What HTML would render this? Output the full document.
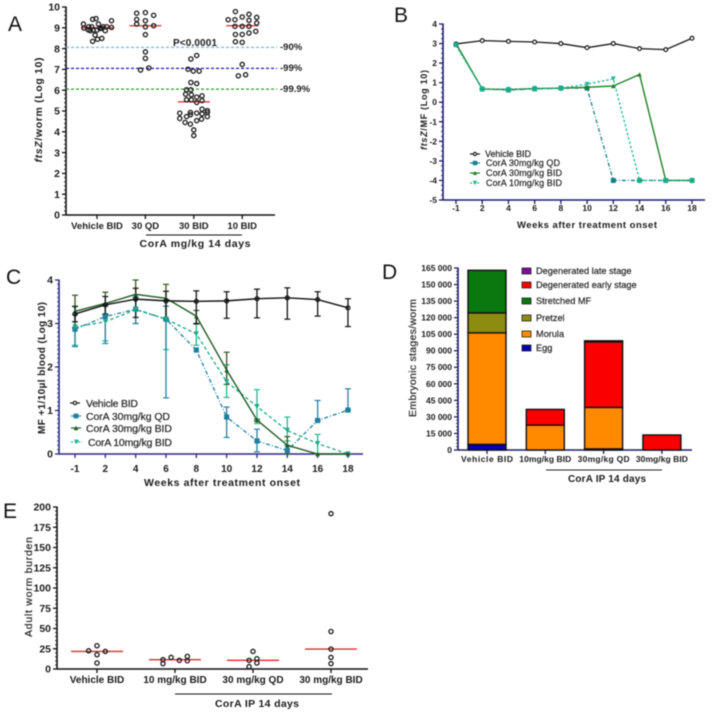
<!DOCTYPE html>
<html>
<head>
<meta charset="utf-8">
<style>
html,body{margin:0;padding:0;background:#fff;width:713px;height:712px;overflow:hidden}
svg{display:block;filter:blur(0.4px)}
text{font-family:"Liberation Sans",sans-serif;fill:#1c1c1c}
.b{font-weight:bold}
.m{stroke:#333;stroke-width:.2}
.pl{font-size:21px;fill:#111}
</style>
</head>
<body>
<svg id="fig" width="713" height="712" viewBox="0 0 713 712" xmlns="http://www.w3.org/2000/svg">
  <rect x="0" y="0" width="713" height="712" fill="#fff"/>

  <g id="panelA">
    <text class="pl" x="8" y="31">A</text>
    <text class="b" transform="translate(42,110) rotate(-90)" text-anchor="middle" font-size="10.5" textLength="105"><tspan font-style="italic">ftsZ</tspan>/worm (Log 10)</text>
    <text class="b" x="173" y="46" font-size="10" textLength="44">P&lt;0.0001</text>
    <text x="280" y="50" font-size="9.5" class="b">-90%</text>
    <text x="280" y="71" font-size="9.5" class="b">-99%</text>
    <text x="280" y="92" font-size="9.5" class="b">-99.9%</text>
    <line x1="146" x2="242" y1="235" y2="235" stroke="#111" stroke-width="1"/>
    <text class="b" x="195" y="247" font-size="10.5" text-anchor="middle" textLength="111">CorA mg/kg 14 days</text>
  </g>

  <g id="panelB">
    <text class="pl" x="394" y="22">B</text>
    <text class="b" transform="translate(427,110) rotate(-90)" text-anchor="middle" font-size="9" textLength="80"><tspan font-style="italic">ftsZ</tspan>/MF (Log 10)</text>
    <text class="b" x="587" y="228" font-size="9.5" text-anchor="middle" textLength="140">Weeks after treatment onset</text>
    <text class="m" x="485" y="157" font-size="9" textLength="46">Vehicle BID</text>
    <text class="m" x="486" y="166" font-size="9" textLength="74">CorA 30mg/kg QD</text>
    <text class="m" x="486" y="176" font-size="9" textLength="76">CorA 30mg/kg BID</text>
    <text class="m" x="486" y="186" font-size="9" textLength="76">CorA 10mg/kg BID</text>
  </g>

  <g id="panelC">
    <text class="pl" x="6" y="284">C</text>
    <text class="b" transform="translate(45,368) rotate(-90)" text-anchor="middle" font-size="10" textLength="132">MF +1/10µl blood (Log 10)</text>
    <text class="b" x="222" y="486" font-size="10.5" text-anchor="middle" textLength="156">Weeks after treatment onset</text>
    <text class="m" x="86" y="407" font-size="10.5" textLength="52">Vehicle BID</text>
    <text class="m" x="86" y="420" font-size="10.5" textLength="84">CorA 30mg/kg QD</text>
    <text class="m" x="86" y="432" font-size="10.5" textLength="86">CorA 30mg/kg BID</text>
    <text class="m" x="88" y="446" font-size="10.5" textLength="84">CorA 10mg/kg BID</text>
  </g>

  <g id="panelD">
    <text class="pl" x="382" y="279">D</text>
    <text class="m" transform="translate(416,358) rotate(-90)" text-anchor="middle" font-size="10.5" textLength="118">Embryonic stages/worm</text>
    <line x1="546" x2="662" y1="470" y2="470" stroke="#222" stroke-width="1"/>
    <text class="b" x="607" y="482" font-size="10" text-anchor="middle" textLength="78">CorA IP 14 days</text>
  </g>

  <g id="panelE">
    <text class="pl" x="3" y="518">E</text>
    <text class="m" transform="translate(32,587) rotate(-90)" text-anchor="middle" font-size="10.5" textLength="100">Adult worm burden</text>
    <line x1="175" x2="332" y1="694" y2="694" stroke="#111" stroke-width="1"/>
    <text class="b" x="257" y="707" font-size="10.5" text-anchor="middle" textLength="84">CorA IP 14 days</text>
  </g>
</svg>

<script>
/* ---------- Panel A data ---------- */
var aCategories = ['Vehicle BID', '30 QD', '30 BID', '10 BID'];
var aYTicks = [0, 1, 2, 3, 4, 5, 6, 7, 8, 9, 10];
var aMedians = [9.0, 9.1, 5.44, 9.1];
var aThresholds = [8.06, 7.05, 6.05];
var aVehicleValues = [9.18, 8.99, 9.05, 8.9, 9.41, 9.44, 9.18, 8.89, 8.89, 8.97, 8.86, 9.05, 9.34, 9.02, 8.97, 8.65, 8.35, 8.45, 8.49, 8.86, 9.05, 9.05];
var aVehicleJitter = [-.28, -.27, -.17, -.18, -.09, -.02, .03, -.08, 0, .1, .17, .2, .3, .3, .06, -.04, -.09, .01, .1, -.14, .13, -.11];
var aQdValues = [9.7, 9.73, 9.6, 9.4, 9.34, 9.18, 9.05, 9.1, 8.67, 7.84, 7.53, 6.97, 7.07];
var aQdJitter = [-.18, 0, .17, -.18, 0, -.18, 0, .17, 0, 0, 0, -.1, .07];
var aBid30Values = [7.5, 7.67, 7.01, 6.92, 6.92, 6.37, 6.32, 6.02, 6.02, 5.81, 5.78, 5.67, 5.73, 5.54, 5.54, 5.41, 5.5, 5.09, 4.93, 4.9, 4.86, 5.02, 4.9, 4.73, 4.64, 4.82, 4.73, 4.61, 4.54, 4.45, 4.37, 4.09, 3.82, 4.93];
var aBid30Jitter = [-.06, .06, -.12, -.01, .11, -.06, .06, -.15, -.06, -.17, -.05, .06, .17, -.15, -.05, .06, .17, .17, -.07, .06, .17, .28, -.29, -.15, -.29, -.07, .28, .16, .06, -.18, -.07, 0, 0, .28];
var aBid10Values = [9.78, 9.39, 9.39, 9.52, 9.65, 9.5, 9.36, 9.23, 9.07, 9.07, 9.07, 8.68, 8.68, 8.75, 8.83, 8.33, 8.3, 7.24, 6.69, 6.74];
var aBid10Jitter = [-.14, -.29, -.15, 0, .14, .3, .14, .3, -.15, 0, .14, -.14, 0, .14, .28, -.14, 0, 0, -.08, .07];

/* ---------- Panel B data ---------- */
var weekLabels = ['-1', '2', '4', '6', '8', '10', '12', '14', '16', '18'];
var bYTicks = [-5, -4, -3, -2, -1, 0, 1, 2, 3, 4];
var bVehicle = [2.98, 3.15, 3.11, 3.08, 3.0, 2.79, 3.0, 2.74, 2.69, 3.27];
var bQd30 = [2.95, 0.68, 0.62, 0.68, 0.72, 0.72, -4, -4, -4, -4];
var bBid30 = [3.0, 0.68, 0.65, 0.7, 0.72, 0.76, 0.83, 1.42, -4, -4];
var bBid10 = [2.9, 0.68, 0.65, 0.7, 0.72, 0.92, 1.2, -4, -4, -4];

/* ---------- Panel C data ---------- */
var cYTicks = [0, 1, 2, 3, 4];
var cVehicle = [3.22, 3.43, 3.56, 3.52, 3.51, 3.52, 3.57, 3.59, 3.55, 3.36];
var cVehicleUpper = [3.39, 3.62, 3.81, 3.74, 3.75, 3.73, 3.79, 3.82, 3.73, 3.57];
var cVehicleLower = [3.04, 3.22, 3.14, 3.1, 2.99, 3.12, 3.13, 3.1, 3.17, 2.93];
var cQd30 = [2.87, 3.16, 3.33, 3.1, 2.39, 0.85, 0.3, 0.08, 0.77, 1.01];
var cQd30Upper = [3.2, 3.4, 3.6, 3.4, 2.39, 1.08, 0.57, 0.2, 1.23, 1.5];
var cQd30Lower = [2.47, 2.54, 3.0, 1.29, 2.39, 0.38, 0.05, 0, 0.77, 1.01];
var cBid30 = [3.28, 3.46, 3.67, 3.58, 3.17, 1.93, 0.78, 0.2, 0, 0];
var cBid30Upper = [3.65, 3.72, 4.0, 3.9, 3.3, 2.34, 0.8, 0.4, 0, 0];
var cBid30Lower = [2.9, 3.2, 3.3, 3.1, 3.0, 1.6, 0.76, 0, 0, 0];
var cBid10 = [2.92, 3.04, 3.32, 3.1, 2.76, 1.66, 1.09, 0.54, 0.24, 0];
var cBid10Upper = [3.4, 3.4, 3.6, 3.4, 3.0, 2.05, 1.48, 0.85, 0.45, 0];
var cBid10Lower = [2.5, 2.6, 3.0, 2.4, 2.5, 1.3, 0.7, 0.3, 0, 0];

/* ---------- Panel D data ---------- */
var dCategories = ['Vehicle BID', '10mg/kg BID', '30mg/kg QD', '30mg/kg BID'];
var dYTicks = [0, 15000, 30000, 45000, 60000, 75000, 90000, 105000, 120000, 135000, 150000, 165000];
var dStageNames = ['Egg', 'Morula', 'Pretzel', 'Stretched MF', 'Degenerated early stage', 'Degenerated late stage'];
var dEgg = [5100, 0, 1000, 0];
var dMorula = [101100, 22600, 37600, 0];
var dPretzel = [18100, 0, 0, 0];
var dStretched = [38600, 0, 0, 0];
var dEarly = [0, 14200, 59400, 13600];
var dLate = [0, 0, 1000, 0];

/* ---------- Panel E data ---------- */
var eCategories = ['Vehicle BID', '10 mg/kg BID', '30 mg/kg QD', '30 mg/kg BID'];
var eYTicks = [0, 25, 50, 75, 100, 125, 150, 175, 200];
var eMedians = [21.7, 11.5, 10.7, 24.6];
var eVehicleValues = [22.5, 28.7, 17.6, 21.7, 7.4];
var eVehicleJitter = [-.107, 0, 0, .107, 0];
var eBid10Values = [11.5, 6.6, 14.3, 10.7, 15.6, 10.2];
var eBid10Jitter = [-.154, -.154, -.05, .056, .158, .158];
var eQd30Values = [21.7, 10.7, 12.7, 7.4, 2.9];
var eQd30Jitter = [0, -.05, .05, .05, -.05];
var eBid30Values = [191.8, 46.3, 24.6, 14.3, 6.6];
var eBid30Jitter = [0, 0, 0, 0, 0];

/* ---------- helpers ---------- */
var NS = 'http://www.w3.org/2000/svg';
function mk(parent, tag, attrs) {
  var el = document.createElementNS(NS, tag);
  for (var k in attrs) el.setAttribute(k, attrs[k]);
  parent.appendChild(el);
  return el;
}
function linear(d0, d1, r0, r1) {
  return function (v) { return r0 + (v - d0) * (r1 - r0) / (d1 - d0); };
}
function band(r0, step) {
  return function (i) { return r0 + i * step; };
}
function drawYAxis(parent, name, y, ticks, minorStep, x, color, size, bold, fmt, labelGap) {
  var g = mk(parent, 'g', {});
  
  
  var lo = ticks[0], hi = ticks[ticks.length - 1];
  mk(g, 'line', {x1: x, x2: x, y1: y(hi) - .5, y2: y(lo) + .5, stroke: color, 'stroke-width': 1.6});
  if (minorStep) {
    var n = Math.round((hi - lo) / minorStep);
    for (var j = 0; j <= n; j++) {
      var yy = y(lo + j * minorStep);
      mk(g, 'line', {x1: x - 2, x2: x, y1: yy, y2: yy, stroke: color, 'stroke-width': .8});
    }
  }
  ticks.forEach(function (t) {
    mk(g, 'line', {x1: x - 4, x2: x, y1: y(t), y2: y(t), stroke: color, 'stroke-width': 1.3});
    var lab = mk(g, 'text', {x: x - labelGap, y: y(t) + size * .35, 'text-anchor': 'end', 'font-size': size, 'font-weight': bold ? 'bold' : 'normal'});
    lab.textContent = fmt ? fmt(t) : String(t);
    
    
  });
}
function drawXAxis(parent, name, x, labels, y0, xStart, xEnd, color, size, labelY, widths) {
  var g = mk(parent, 'g', {});
  
  
  mk(g, 'line', {x1: xStart, x2: xEnd, y1: y0, y2: y0, stroke: color, 'stroke-width': 1.6});
  labels.forEach(function (l, i) {
    mk(g, 'line', {x1: x(i), x2: x(i), y1: y0, y2: y0 + 4, stroke: color, 'stroke-width': 1.3});
    var a = {x: x(i), y: labelY, 'text-anchor': 'middle', 'font-size': size, 'font-weight': 'bold'};
    if (widths) a.textLength = widths;
    var lab = mk(g, 'text', a);
    lab.textContent = l;
    
    
  });
}
function drawSwarm(parent, name, cx, step, y, values, jitter, r) {
  var g = mk(parent, 'g', {});
  
  
  values.forEach(function (v, i) {
    var c = mk(g, 'circle', {cx: cx + jitter[i] * step, cy: y(v), r: r, fill: 'none', stroke: '#1a1a1a', 'stroke-width': 1.3});
    
    
  });
}
function drawMedian(parent, cx, halfWidth, yy) {
  var l = mk(parent, 'line', {x1: cx - halfWidth, x2: cx + halfWidth, y1: yy, y2: yy, stroke: '#e4282e', 'stroke-width': 1.3});
  
  
}
function marker(g, shape, px, py, size, color, fill) {
  var f = fill || color, el;
  if (shape === 'circle') el = mk(g, 'circle', {cx: px, cy: py, r: size, fill: f, stroke: color, 'stroke-width': 1.2});
  else if (shape === 'square') el = mk(g, 'rect', {x: px - size, y: py - size, width: size * 2, height: size * 2, fill: f});
  else if (shape === 'up') el = mk(g, 'polygon', {points: [px, py - size, px + size, py + size, px - size, py + size].join(','), fill: f});
  else el = mk(g, 'polygon', {points: [px, py + size, px + size, py - size, px - size, py - size].join(','), fill: f});
  
  
  return el;
}
function drawSeries(parent, name, x, y, values, color, width, dash, shape, size, fill) {
  var g = mk(parent, 'g', {});
  
  
  var pts = values.map(function (v, i) { return x(i) + ',' + y(v); }).join(' ');
  var a = {points: pts, fill: 'none', stroke: color, 'stroke-width': width};
  if (dash) a['stroke-dasharray'] = dash;
  mk(g, 'polyline', a);
  values.forEach(function (v, i) { marker(g, shape, x(i), y(v), size, color, fill); });
}
function drawErrors(parent, name, x, y, upper, lower, color) {
  var g = mk(parent, 'g', {});
  
  
  upper.forEach(function (u, i) {
    var px = x(i);
    mk(g, 'line', {x1: px, x2: px, y1: y(u), y2: y(lower[i]), stroke: color, 'stroke-width': 1.3});
    if (u !== lower[i]) {
      mk(g, 'line', {x1: px - 3, x2: px + 3, y1: y(u), y2: y(u), stroke: color, 'stroke-width': 1.2});
      mk(g, 'line', {x1: px - 3, x2: px + 3, y1: y(lower[i]), y2: y(lower[i]), stroke: color, 'stroke-width': 1.2});
    }
  });
}
function legendKey(parent, name, x1, x2, yy, color, dash, shape, size, fill) {
  var g = mk(parent, 'g', {});
  
  
  var a = {x1: x1, x2: x2, y1: yy, y2: yy, stroke: color, 'stroke-width': 1.2};
  if (dash) a['stroke-dasharray'] = dash;
  mk(g, 'line', a);
  marker(g, shape, (x1 + x2) / 2, yy, size, color, fill);
}

/* ---------- Panel A ---------- */
(function () {
  var p = document.getElementById('panelA');
  var y = linear(0, 10, 215, 7);
  var x = band(97, 48.4);
  drawYAxis(p, 'y-axis-a', y, aYTicks, .2, 66, '#111', 10.5, true, null, 6);
  drawXAxis(p, 'x-axis-a', x, aCategories, 215, 66, 275, '#111', 9.5, 229);
  var colors = ['#7ab4e0', '#1818b0', '#2f9a35'];
  aThresholds.forEach(function (t, i) {
    var l = mk(p, 'line', {x1: 66, x2: 277, y1: y(t), y2: y(t), stroke: colors[i], 'stroke-width': 1.3, 'stroke-dasharray': '3 2'});
    
    
  });
  aMedians.forEach(function (m, i) { drawMedian(p, x(i), 16, y(m)); });
  var step = 48.4;
  drawSwarm(p, 'swarm-vehicle-bid', x(0), step, y, aVehicleValues, aVehicleJitter, 2.1);
  drawSwarm(p, 'swarm-30-qd', x(1), step, y, aQdValues, aQdJitter, 2.1);
  drawSwarm(p, 'swarm-30-bid', x(2), step, y, aBid30Values, aBid30Jitter, 2.1);
  drawSwarm(p, 'swarm-10-bid', x(3), step, y, aBid10Values, aBid10Jitter, 2.1);
})();

/* ---------- Panel B ---------- */
(function () {
  var p = document.getElementById('panelB');
  var y = linear(-5, 4, 200, 24);
  var x = band(456, 26.22);
  drawYAxis(p, 'y-axis-b', y, bYTicks, .25, 443, '#1c1c70', 8.5, true, null, 6);
  drawXAxis(p, 'x-axis-b', x, weekLabels, 200, 443, 705, '#1c1c70', 8.5, 211);
  drawSeries(p, 'series-b-vehicle', x, y, bVehicle, '#1a1a1a', 1.3, null, 'circle', 1.9, '#fff');
  drawSeries(p, 'series-b-30qd', x, y, bQd30, '#14808c', 1.3, '4 2 1 2', 'square', 2.4);
  drawSeries(p, 'series-b-30bid', x, y, bBid30, '#1f7f25', 1.4, null, 'up', 2.2);
  drawSeries(p, 'series-b-10bid', x, y, bBid10, '#1fb894', 1.3, '2.5 2', 'down', 2.4);
  bBid10.forEach(function (v, i) {
    if (v === -4 || v < 0.8) {
      var c = mk(p, 'circle', {cx: x(i), cy: y(v), r: 2.8, fill: '#18ad88'});
      
      
    }
  });
  var q = mk(p, 'rect', {x: x(6) - 2.4, y: y(bQd30[6]) - 2.4, width: 4.8, height: 4.8, fill: '#14808c'});
  
  
  legendKey(p, 'legend-key-b-vehicle', 470, 480, 154, '#1a1a1a', null, 'circle', 1.6, '#fff');
  legendKey(p, 'legend-key-b-30qd', 470, 480, 163, '#14808c', null, 'square', 2.2);
  legendKey(p, 'legend-key-b-30bid', 470, 480, 173, '#1f7f25', null, 'up', 2);
  legendKey(p, 'legend-key-b-10bid', 470, 480, 183, '#1fb894', '2 1.5', 'down', 2.2);
})();

/* ---------- Panel C ---------- */
(function () {
  var p = document.getElementById('panelC');
  var y = linear(0, 4, 454, 280);
  var x = band(75, 30.33);
  drawYAxis(p, 'y-axis-c', y, cYTicks, .1, 59, '#2a2a80', 10.5, true, null, 6);
  drawXAxis(p, 'x-axis-c', x, weekLabels, 454, 59, 363, '#2a2a80', 10, 472);
  drawErrors(p, 'error-bars-c-10bid', x, y, cBid10Upper, cBid10Lower, '#25b890');
  drawErrors(p, 'error-bars-c-30qd', x, y, cQd30Upper, cQd30Lower, '#2a80a0');
  drawErrors(p, 'error-bars-c-30bid', x, y, cBid30Upper, cBid30Lower, '#38561f');
  drawErrors(p, 'error-bars-c-vehicle', x, y, cVehicleUpper, cVehicleLower, '#111');
  drawSeries(p, 'series-c-30qd', x, y, cQd30, '#1f7f9f', 1.3, '4 2 1 2', 'square', 2.6);
  drawSeries(p, 'series-c-10bid', x, y, cBid10, '#1fa888', 1.3, '3.5 2.5', 'down', 2.6);
  drawSeries(p, 'series-c-30bid', x, y, cBid30, '#1f5a22', 1.4, null, 'up', 2.3);
  drawSeries(p, 'series-c-vehicle', x, y, cVehicle, '#111', 1.4, null, 'circle', 2, 'none');
  legendKey(p, 'legend-key-c-vehicle', 70, 80, 403, '#1a1a1a', null, 'circle', 1.7, '#fff');
  legendKey(p, 'legend-key-c-30qd', 71, 81, 416, '#1f7f9f', null, 'square', 2.4);
  legendKey(p, 'legend-key-c-30bid', 71, 81, 428, '#1f5a22', null, 'up', 2.3);
  legendKey(p, 'legend-key-c-10bid', 71, 82, 442, '#1fb894', '2 1.5', 'down', 2.4);
})();

/* ---------- Panel D ---------- */
(function () {
  var p = document.getElementById('panelD');
  var y = linear(0, 165000, 450, 268);
  var x = band(487, 58.3);
  var fmt = function (t) {
    var s = String(t);
    return t >= 1000 ? s.slice(0, -3) + ' ' + s.slice(-3) : s;
  };
  drawYAxis(p, 'y-axis-d', y, dYTicks, 3000, 458, '#1c1c70', 8.5, true, fmt, 6);
  drawXAxis(p, 'x-axis-d', x, dCategories, 450, 458, 692, '#1c1c70', 8.5, 462, 52);
  var series = [dEgg, dMorula, dPretzel, dStretched, dEarly, dLate];
  var fills = ['#0000b4', '#ff8a00', '#8c8c10', '#0a780f', '#fa0000', '#7a109a'];
  dCategories.forEach(function (c, i) {
    var base = 0;
    series.forEach(function (s, k) {
      var v = s[i];
      if (!v) return;
      var top = y(base + v), bot = y(base);
      var r = mk(p, 'rect', {x: x(i) - 19, y: top, width: 38, height: bot - top, fill: fills[k], stroke: '#111', 'stroke-width': 1.4});
      
      
      base += v;
    });
  });
  var order = [5, 4, 3, 2, 1, 0];
  var rowY = [271, 285, 301, 318, 334, 348];
  order.forEach(function (k, row) {
    var s = mk(p, 'rect', {x: 522, y: rowY[row] - 3, width: 9, height: 6, fill: fills[k], stroke: '#222', 'stroke-width': .8});
    
    
    var t = mk(p, 'text', {x: 536, y: rowY[row] + 3, 'font-size': 9.2, 'class': 'm'});
    t.textContent = dStageNames[k];
    
    
  });
})();

/* ---------- Panel E ---------- */
(function () {
  var p = document.getElementById('panelE');
  var y = linear(0, 200, 669, 507);
  var x = band(97, 78);
  drawYAxis(p, 'y-axis-e', y, eYTicks, 5, 57, '#111', 10.5, true, null, 6);
  drawXAxis(p, 'x-axis-e', x, eCategories, 669, 57, 368, '#111', 10, 683);
  eMedians.forEach(function (m, i) { drawMedian(p, x(i), 26, y(m)); });
  var step = 78;
  drawSwarm(p, 'swarm-e-vehicle', x(0), step, y, eVehicleValues, eVehicleJitter, 2.1);
  drawSwarm(p, 'swarm-e-10bid', x(1), step, y, eBid10Values, eBid10Jitter, 2.1);
  drawSwarm(p, 'swarm-e-30qd', x(2), step, y, eQd30Values, eQd30Jitter, 2.1);
  drawSwarm(p, 'swarm-e-30bid', x(3), step, y, eBid30Values, eBid30Jitter, 2.1);
})();
</script>
</body>
</html>
